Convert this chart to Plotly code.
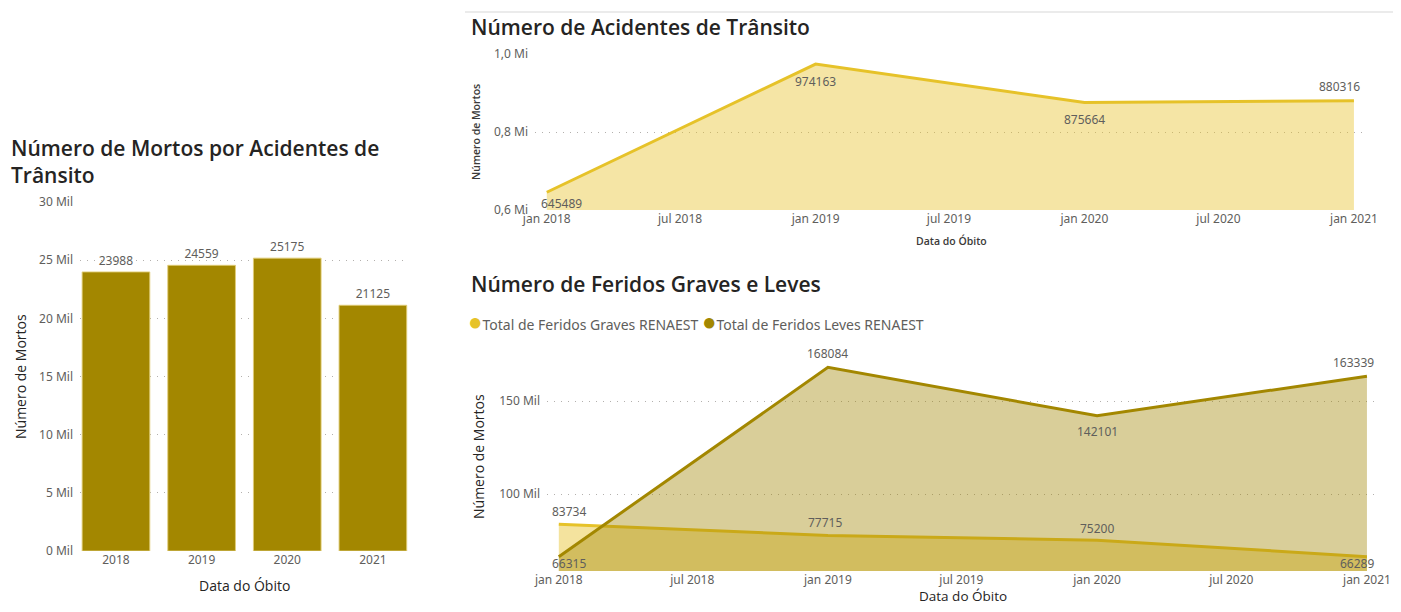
import plotly.graph_objects as go

# ---- data ----
years = ["2018", "2019", "2020", "2021"]
mortos = [23988, 24559, 25175, 21125]

dates = ["2018-01-01", "2019-01-01", "2020-01-01", "2021-01-01"]
acidentes = [645489, 974163, 875664, 880316]

feridos_graves = [83734, 77715, 75200, 66289]
feridos_leves = [66315, 168084, 142101, 163339]

date_ticks = ["2018-01-01", "2018-07-01", "2019-01-01", "2019-07-01",
              "2020-01-01", "2020-07-01", "2021-01-01"]
date_tick_text = ["jan 2018", "jul 2018", "jan 2019", "jul 2019",
                  "jan 2020", "jul 2020", "jan 2021"]

bar_ticks = [0, 5000, 10000, 15000, 20000, 25000, 30000]
bar_tick_text = ["0 Mil", "5 Mil", "10 Mil", "15 Mil", "20 Mil", "25 Mil", "30 Mil"]
acc_ticks = [600000, 800000, 1000000]
acc_tick_text = ["0,6 Mi", "0,8 Mi", "1,0 Mi"]
fer_ticks = [100000, 150000]
fer_tick_text = ["100 Mil", "150 Mil"]

# ---- styling ----
# page body has an 8px margin, so the figure is sized to fit the 1401x612 window
W, H = 1385, 596
OX, OY = 8, 8
OLIVE = "#A38700"
YELLOW = "#E6C229"
TITLE_FONT = "Open Sans"
BODY_FONT = "Noto Sans"
GRID = "#B3B0AD"
TICK_COLOR = "#605E5C"
LABEL_COLOR = "#605E5C"
DARK = "#252423"

# data-label offsets (px) relative to each point: (dx, dy up)
acc_label_off = [(15, -11), (0, -17), (0, -17), (-14, 14)]
graves_label_off = [(10, 13), (-3, 13), (0, 12), (-10, -7)]
leves_label_off = [(10, -7), (0, 14), (0, -16), (-13, 14)]


def px_x(x):
    return (x - OX) / W


def px_y(y):
    return 1 - (y - OY) / H


fig = go.Figure()

fig.add_trace(go.Bar(
    x=years, y=mortos, xaxis="x", yaxis="y",
    marker=dict(color=OLIVE, line=dict(color="rgba(225,205,120,0.9)", width=1)),
    width=0.79, text=[str(v) for v in mortos], textposition="outside",
    textfont=dict(family=BODY_FONT, size=12, color=LABEL_COLOR),
    cliponaxis=False, showlegend=False,
))

fig.add_trace(go.Scatter(
    x=dates, y=acidentes, xaxis="x2", yaxis="y2",
    mode="lines", fill="tozeroy",
    line=dict(color=YELLOW, width=3),
    fillcolor="rgba(230,194,41,0.42)", showlegend=False,
))

fig.add_trace(go.Scatter(
    x=dates, y=feridos_graves, xaxis="x3", yaxis="y3",
    mode="lines", fill="tozeroy",
    line=dict(color=YELLOW, width=3),
    fillcolor="rgba(230,194,41,0.45)", showlegend=False,
))
fig.add_trace(go.Scatter(
    x=dates, y=feridos_leves, xaxis="x3", yaxis="y3",
    mode="lines", fill="tozeroy",
    line=dict(color=OLIVE, width=3),
    fillcolor="rgba(160,132,0,0.4)", showlegend=False,
))

tickfont = dict(family=BODY_FONT, size=12, color=TICK_COLOR)
common_y = dict(showgrid=True, gridcolor=GRID, griddash="1px,6px", gridwidth=1,
                zeroline=False, showline=False, ticks="", tickfont=tickfont,
                ticklabelstandoff=6, automargin=False)
common_x = dict(showgrid=False, zeroline=False, showline=False, ticks="",
                tickfont=tickfont, automargin=False)

date_range = ["2017-12-16", "2021-01-16"]

fig.update_layout(
    width=W, height=H,
    margin=dict(l=0, r=0, t=0, b=0, autoexpand=False),
    paper_bgcolor="white", plot_bgcolor="white",
    showlegend=False,
    xaxis=dict(common_x, domain=[px_x(80), px_x(408)], range=[-0.42, 3.41],
               type="category", anchor="y"),
    yaxis=dict(common_y, domain=[px_y(551), px_y(202)], range=[0, 30000],
               tickvals=bar_ticks, ticktext=bar_tick_text, anchor="x"),
    xaxis2=dict(common_x, domain=[px_x(535), px_x(1365)], range=date_range,
                type="date", tickvals=date_ticks, ticktext=date_tick_text, anchor="y2"),
    yaxis2=dict(common_y, domain=[px_y(210), px_y(54)], range=[600000, 1000000],
                tickvals=acc_ticks, ticktext=acc_tick_text, anchor="x2"),
    xaxis3=dict(common_x, domain=[px_x(547), px_x(1378)], range=date_range,
                type="date", tickvals=date_ticks, ticktext=date_tick_text, anchor="y3"),
    yaxis3=dict(common_y, domain=[px_y(571), px_y(335)], range=[58600, 185500],
                tickvals=fer_ticks, ticktext=fer_tick_text, anchor="x3"),
)

dot = "<span style='font-size:24px;color:{c}'>●</span>"
legend_text = (dot.format(c=YELLOW) + "Total de Feridos Graves RENAEST "
               + dot.format(c=OLIVE) + "Total de Feridos Leves RENAEST")

title_font = dict(family=TITLE_FONT, size=21, color=DARK, weight=600)
axis_title_font = dict(family=TITLE_FONT, size=14, color=DARK, weight=500)
annotations = [
    dict(text="Número de Mortos por Acidentes de<br>Trânsito", x=px_x(9), y=px_y(161),
         xanchor="left", yanchor="middle", align="left", font=title_font),
    dict(text="Número de Acidentes de Trânsito", x=px_x(469), y=px_y(27),
         xanchor="left", yanchor="middle", font=title_font),
    dict(text="Número de Feridos Graves e Leves", x=px_x(469), y=px_y(284),
         xanchor="left", yanchor="middle", font=title_font),
    dict(text=legend_text, x=px_x(466), y=px_y(320), xanchor="left", yanchor="middle",
         font=dict(family=BODY_FONT, size=14, color=TICK_COLOR)),
    dict(text="Número de Mortos", x=px_x(20), y=px_y(377), textangle=-90,
         xanchor="center", yanchor="middle", font=axis_title_font),
    dict(text="Data do Óbito", x=px_x(245), y=px_y(585),
         xanchor="center", yanchor="middle", font=axis_title_font),
    dict(text="Número de Mortos", x=px_x(476), y=px_y(132), textangle=-90,
         xanchor="center", yanchor="middle",
         font=dict(family=TITLE_FONT, size=10.5, color="#3B3A39", weight=600)),
    dict(text="Data do Óbito", x=px_x(951), y=px_y(241),
         xanchor="center", yanchor="middle",
         font=dict(family=TITLE_FONT, size=10.5, color="#3B3A39", weight=600)),
    dict(text="Número de Mortos", x=px_x(478), y=px_y(457), textangle=-90,
         xanchor="center", yanchor="middle", font=axis_title_font),
    dict(text="Data do Óbito", x=px_x(963), y=px_y(596),
         xanchor="center", yanchor="middle",
         font=dict(family=TITLE_FONT, size=13.5, color=DARK, weight=500)),
]
for a in annotations:
    a.update(xref="paper", yref="paper", showarrow=False)

label_font = dict(family=BODY_FONT, size=12, color=LABEL_COLOR)
for xs, ys, offs, xr, yr in [
    (dates, acidentes, acc_label_off, "x2", "y2"),
    (dates, feridos_graves, graves_label_off, "x3", "y3"),
    (dates, feridos_leves, leves_label_off, "x3", "y3"),
]:
    for xv, yv, (dx, dy) in zip(xs, ys, offs):
        annotations.append(dict(text=str(yv), x=xv, y=yv, xref=xr, yref=yr,
                                xshift=dx, yshift=dy, showarrow=False,
                                xanchor="center", yanchor="middle", font=label_font))

fig.update_layout(annotations=annotations)

fig.add_shape(type="line", xref="paper", yref="paper", x0=px_x(465), x1=1,
              y0=px_y(12), y1=px_y(12), line=dict(color="#EBEBEB", width=2))

fig.write_html("out.html")
